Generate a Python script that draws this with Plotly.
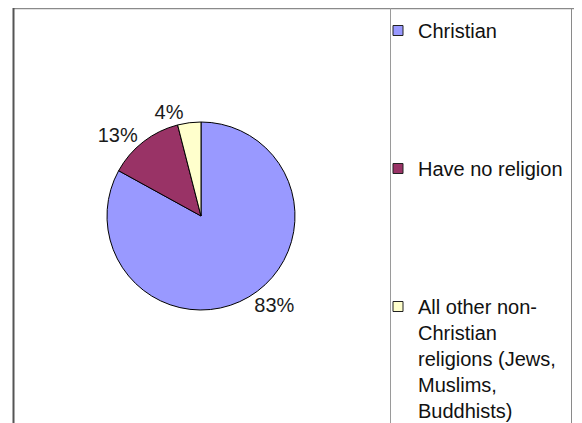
import plotly.graph_objects as go

# ---- data ----
categories = ["Christian", "Have no religion",
              "All other non-<br>Christian<br>religions (Jews,<br>Muslims,<br>Buddhists)"]
values = [83, 13, 4]
colors = ["#9999FF", "#993366", "#FFFFCC"]

W, H = 582, 423
FONT = "Liberation Sans, Arial, sans-serif"
OFF = 8  # page body margin in the browser


def px(sx):
    return (sx - OFF) / W


def py(sy):
    return 1 - (sy - OFF) / H


cx, cy, r = 201, 216, 94

fig = go.Figure()
fig.add_trace(go.Pie(
    labels=categories,
    values=values,
    sort=False,
    direction="clockwise",
    rotation=0,
    marker=dict(colors=colors, line=dict(color="#000000", width=1)),
    textposition="outside",
    texttemplate="%{percent:.0%}",
    textfont=dict(family=FONT, size=20, color="#1a1a1a"),
    hoverinfo="none",
    showlegend=False,
    domain=dict(x=[px(cx - r), px(cx + r)], y=[py(cy + r), py(cy - r)]),
))

# legend entries (one legend group each so the gap between them can be set)
for i, (name, col) in enumerate(zip(categories, colors)):
    fig.add_trace(go.Scatter(
        x=[None], y=[None], mode="markers", name=name,
        legendgroup=f"g{i}", showlegend=True, hoverinfo="skip",
        marker=dict(symbol="square", size=10, color=col,
                    line=dict(color="#222222", width=1)),
    ))

line_shapes = [
    # top border
    dict(x0=px(13), x1=1, y0=py(8.6), y1=py(8.6), color="#8a8a8a", width=1.5),
    # left border
    dict(x0=px(13.5), x1=px(13.5), y0=py(8), y1=0, color="#555555", width=2),
    # divider between plot area and legend
    dict(x0=px(390.5), x1=px(390.5), y0=py(8), y1=0, color="#9a9a9a", width=1),
    # right double border
    dict(x0=px(571.5), x1=px(571.5), y0=py(8), y1=0, color="#8a8a8a", width=1),
    dict(x0=px(575.5), x1=px(575.5), y0=py(8), y1=0, color="#666666", width=1.5),
]
shapes = [
    dict(type="line", xref="paper", yref="paper",
         x0=s["x0"], x1=s["x1"], y0=s["y0"], y1=s["y1"],
         line=dict(color=s["color"], width=s["width"]))
    for s in line_shapes
]

fig.update_layout(
    width=W, height=H,
    margin=dict(l=0, r=0, t=0, b=0),
    paper_bgcolor="white",
    plot_bgcolor="white",
    xaxis=dict(visible=False),
    yaxis=dict(visible=False),
    shapes=shapes,
    showlegend=True,
    legend=dict(
        x=px(378), y=py(11), xanchor="left", yanchor="top",
        font=dict(family=FONT, size=20, color="#111111"),
        valign="top",
        traceorder="grouped",
        tracegroupgap=109,
        itemwidth=30,
        bgcolor="rgba(0,0,0,0)",
        itemclick=False, itemdoubleclick=False,
    ),
)

fig.write_html("out.html")
